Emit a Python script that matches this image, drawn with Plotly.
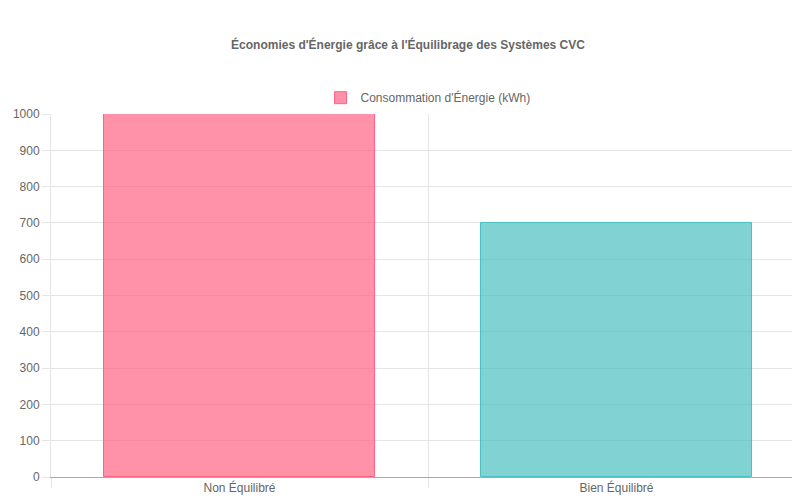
import plotly.graph_objects as go

categories = ["Non Équilibré", "Bien Équilibré"]
values = [1000, 700]
series_name = "Consommation d'Énergie (kWh)"
fills = ["rgba(255,99,132,0.7)", "rgba(75,192,192,0.7)"]
lines = ["rgba(255,99,132,1)", "rgba(75,192,192,1)"]

fig = go.Figure(go.Bar(
    x=[0, 1], y=values, name=series_name, width=0.72,
    marker=dict(color=fills, line=dict(color=lines, width=1)),
    showlegend=True,
))
fig.update_layout(
    width=800, height=500,
    margin=dict(l=43, r=3, t=106, b=31),
    paper_bgcolor="white", plot_bgcolor="white",
    font=dict(family="Liberation Sans, Arial, sans-serif", size=12, color="#666"),
    title=dict(text="<b>Économies d'Énergie grâce à l'Équilibrage des Systèmes CVC</b>",
               x=0.5, xanchor="center", y=0.926, yanchor="middle",
               font=dict(size=12, color="#666")),
    legend=dict(orientation="h", x=0.5, xanchor="center", y=1.005, yanchor="bottom",
                font=dict(size=12, color="#666")),
    bargap=0,
)
fig.update_xaxes(
    range=[-0.5, 1.5], tickvals=[0, 1], ticktext=categories, showgrid=False,
    ticks="", showline=True, linecolor="#aaa", zeroline=False, automargin=False,
    minor=dict(tickvals=[-0.5, 0.5, 1.5], showgrid=True, gridcolor="#e5e5e5",
               ticks="outside", ticklen=10, tickcolor="#e5e5e5"),
)
fig.update_yaxes(
    range=[0, 1000], dtick=100, showgrid=True, gridcolor="#e5e5e5",
    ticks="outside", ticklen=8, tickcolor="#e5e5e5", showline=True,
    linecolor="#e5e5e5", zeroline=False, automargin=False,
)
fig.write_html("out.html")
